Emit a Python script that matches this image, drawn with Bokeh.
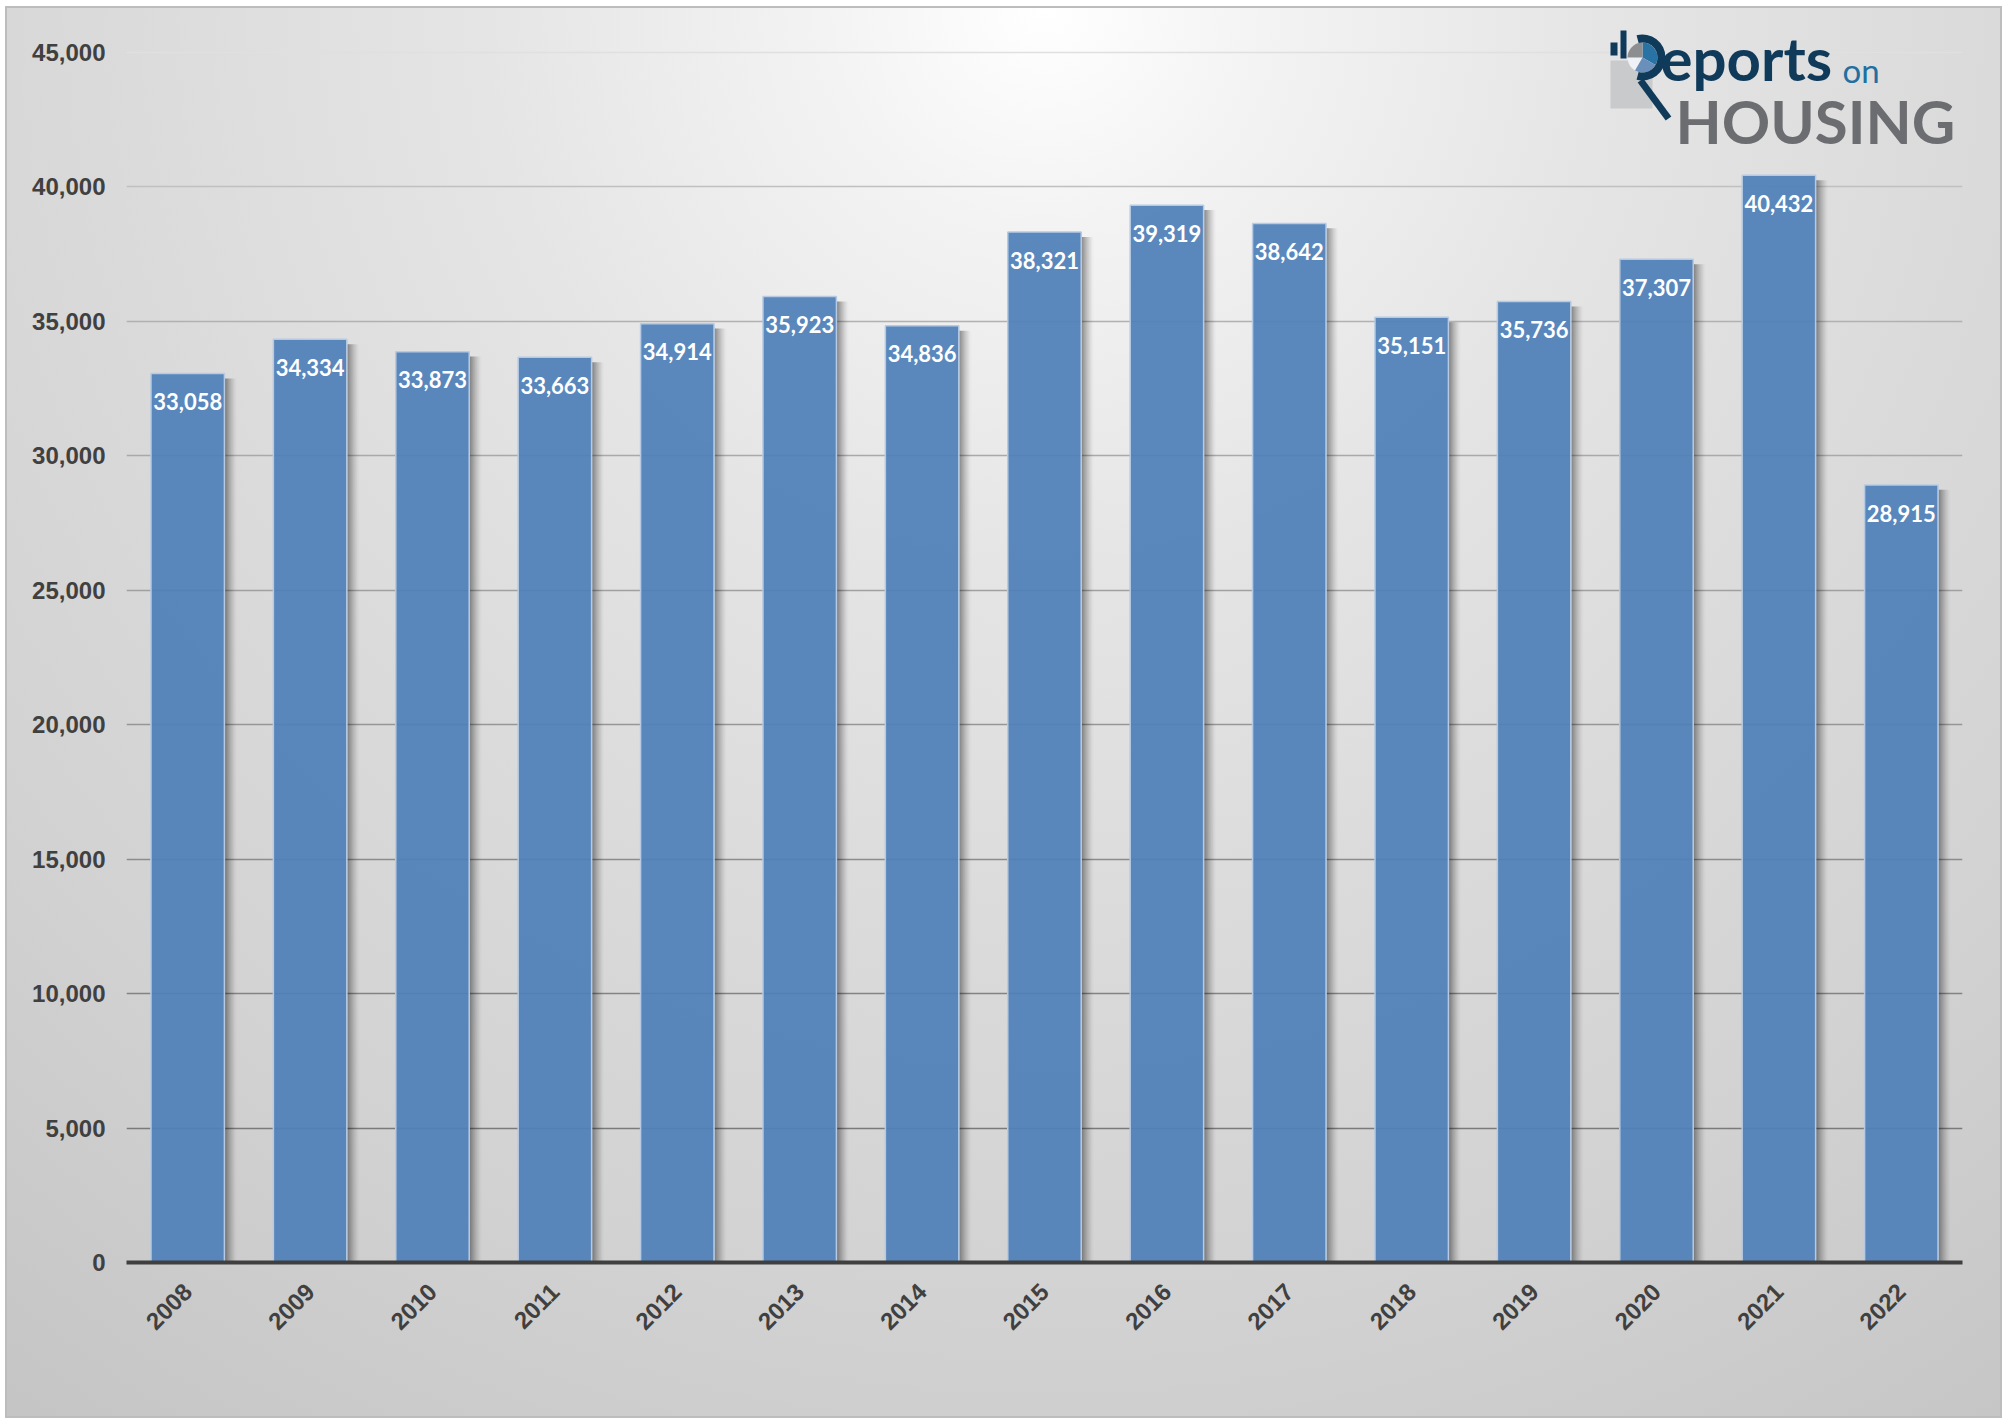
import math
from bokeh.plotting import figure
from bokeh.models import Range1d, FixedTicker, NumeralTickFormatter, ColumnDataSource
from bokeh.transform import dodge
from bokeh.core.properties import value
from bokeh.embed import file_html
from bokeh.resources import INLINE

# ---------------- data ----------------
years = ["2008", "2009", "2010", "2011", "2012", "2013", "2014", "2015",
         "2016", "2017", "2018", "2019", "2020", "2021", "2022"]
sales = [33058, 34334, 33873, 33663, 34914, 35923, 34836, 38321,
         39319, 38642, 35151, 35736, 37307, 40432, 28915]
labels = [f"{v:,}" for v in sales]
y_ticks = [0, 5000, 10000, 15000, 20000, 25000, 30000, 35000, 40000, 45000]
grid_lines = [5000, 10000, 15000, 20000, 25000, 30000, 35000, 40000, 45000]
grid_colors = ["#7a7a7a", "#838383", "#8c8c8c", "#969696", "#a0a0a0",
               "#a9a9a9", "#b1b1b1", "#c0c0c0", "#e0e0e0"]

# ---------------- layout ----------------
OX, OY = 5, 6                      # page offset of the chart box
W, H = 2002 - OX, 1418 - OY
ML, MR, MT, MB = 126 - OX, 2002 - 1962, 20 - OY, 1418 - 1262
FW, FH = W - ML - MR, H - MT - MB          # frame size in px
CAT_PX = FW / len(years)                    # px per category

p = figure(x_range=years, y_range=Range1d(0, 45000 * FH / 1210.0),
           width=W, height=H, output_backend="svg", toolbar_location=None,
           min_border_left=ML, min_border_right=MR,
           min_border_top=MT, min_border_bottom=MB)
p.extra_y_ranges = {"py": Range1d(0, FH)}

p.border_fill_color = None
p.background_fill_color = None
p.outline_line_color = None
p.styles = {
    "margin-left": f"{OX}px",
    "margin-top": f"{OY}px",
    "background": "radial-gradient(circle at 52% 0%, #ffffff 0px, #f3f3f3 220px, "
                  "#e5e5e5 560px, #dadada 950px, #d2d2d2 1300px, #c3c3c3 1800px)",
    "box-shadow": "inset 0 0 0 2px #bdbdbd",
}
p.xgrid.visible = False
p.ygrid.visible = False

# gridlines
p.hspan(y=grid_lines, line_color=grid_colors, line_width=1.6)

src = ColumnDataSource(dict(years=years, sales=sales, labels=labels,
                            shadow_top=[v - 180 for v in sales]))

# bar shadows (thin strips to the right of each bar)
bar_w = 0.6
for k in range(12):
    off = (bar_w / 2) + (k + 1.0) / CAT_PX
    alpha = 0.42 * (1 - k / 12.0) ** 1.5
    p.vbar(x=dodge("years", off, range=p.x_range), top="shadow_top", bottom=0,
           width=1.05 / CAT_PX, source=src, fill_color="black",
           fill_alpha=alpha, line_color=None)

# bars
p.vbar(x="years", top="sales", bottom=0, width=bar_w, source=src,
       fill_color="#4f80b9", fill_alpha=0.93,
       line_color="#b6cae3", line_width=1.5)

# value labels
p.text(x="years", y="sales", text="labels", source=src,
       text_align="center", text_baseline="middle", y_offset=28,
       text_color="white", text_font=value("Lato"), text_font_style="bold",
       text_font_size="22px")

# ---------------- axes ----------------
p.yaxis.ticker = FixedTicker(ticks=y_ticks)
p.yaxis.formatter = NumeralTickFormatter(format="0,0")
p.yaxis.axis_line_color = None
p.yaxis.major_tick_line_color = None
p.yaxis.minor_tick_line_color = None
p.yaxis.major_tick_out = 0
p.yaxis.major_label_standoff = 21
p.yaxis.major_label_text_font = "Liberation Sans"
p.yaxis.major_label_text_font_style = "bold"
p.yaxis.major_label_text_font_size = "24px"
p.yaxis.major_label_text_color = "#404040"

p.xaxis.axis_line_color = "#3f3f3f"
p.xaxis.axis_line_width = 4
p.xaxis.major_tick_line_color = None
p.xaxis.major_tick_out = 0
p.xaxis.major_label_orientation = math.pi / 4
p.xaxis.major_label_standoff = 25
p.xaxis.major_label_text_font = "Liberation Sans"
p.xaxis.major_label_text_font_style = "bold"
p.xaxis.major_label_text_font_size = "24px"
p.xaxis.major_label_text_color = "#404040"

# ---------------- logo (decoration, placed in frame pixels) ----------------
def LX(x):   # reference pixel -> synthetic categorical coordinate
    return (x - 126) / CAT_PX

def LY(y):   # reference pixel -> frame pixel (from bottom)
    return 1262 - y

def R(r):
    return r / CAT_PX

kw = dict(y_range_name="py")
p.quad(left=[LX(1610)], right=[LX(1652)], top=[LY(60)], bottom=[LY(108)],
       fill_color="#c9cacc", line_color=None, **kw)
p.line(x=[LX(1640), LX(1668)], y=[LY(80), LY(118)], line_color="#0f3a5a",
       line_width=7, **kw)
cx, cy = LX(1642), LY(57)
p.circle(x=[cx], y=[cy], radius=R(15), fill_color="#eef2f6", line_color=None, **kw)
p.wedge(x=[cx], y=[cy], radius=R(15), start_angle=math.radians(-30),
        end_angle=math.radians(90), fill_color="#2873a3", line_color=None, **kw)
p.wedge(x=[cx], y=[cy], radius=R(15), start_angle=math.radians(240),
        end_angle=math.radians(330), fill_color="#6a8fba", line_color=None, **kw)
p.wedge(x=[cx], y=[cy], radius=R(15), start_angle=math.radians(90),
        end_angle=math.radians(180), fill_color="#8d8e90", line_color=None, **kw)
p.annular_wedge(x=[cx], y=[cy], inner_radius=R(15), outer_radius=R(23),
                start_angle=math.radians(-105), end_angle=math.radians(105),
                fill_color="#0f3a5a", line_color=None, **kw)
p.quad(left=[LX(1610), LX(1620)], right=[LX(1617), LX(1626)],
       top=[LY(42), LY(30)], bottom=[LY(55), LY(58)],
       fill_color="#0f3a5a", line_color=None, **kw)
p.text(x=[LX(1660)], y=[LY(57)], text=["eports"], text_align="left",
       text_baseline="middle", text_color="#0f3a5a", text_font=value("Lato"),
       text_font_style="bold", text_font_size="60px", **kw)
p.text(x=[LX(1842)], y=[LY(69)], text=["on"], text_align="left",
       text_baseline="middle", text_color="#22709f", text_font=value("Lato"),
       text_font_size="33px", **kw)
p.text(x=[LX(1675)], y=[LY(120)], text=["HOUSING"], text_align="left",
       text_baseline="middle", text_color="#6c6d70", text_font=value("Lato"),
       text_font_style="bold", text_font_size="60px", **kw)

open("out.html", "w").write(file_html(p, INLINE))
